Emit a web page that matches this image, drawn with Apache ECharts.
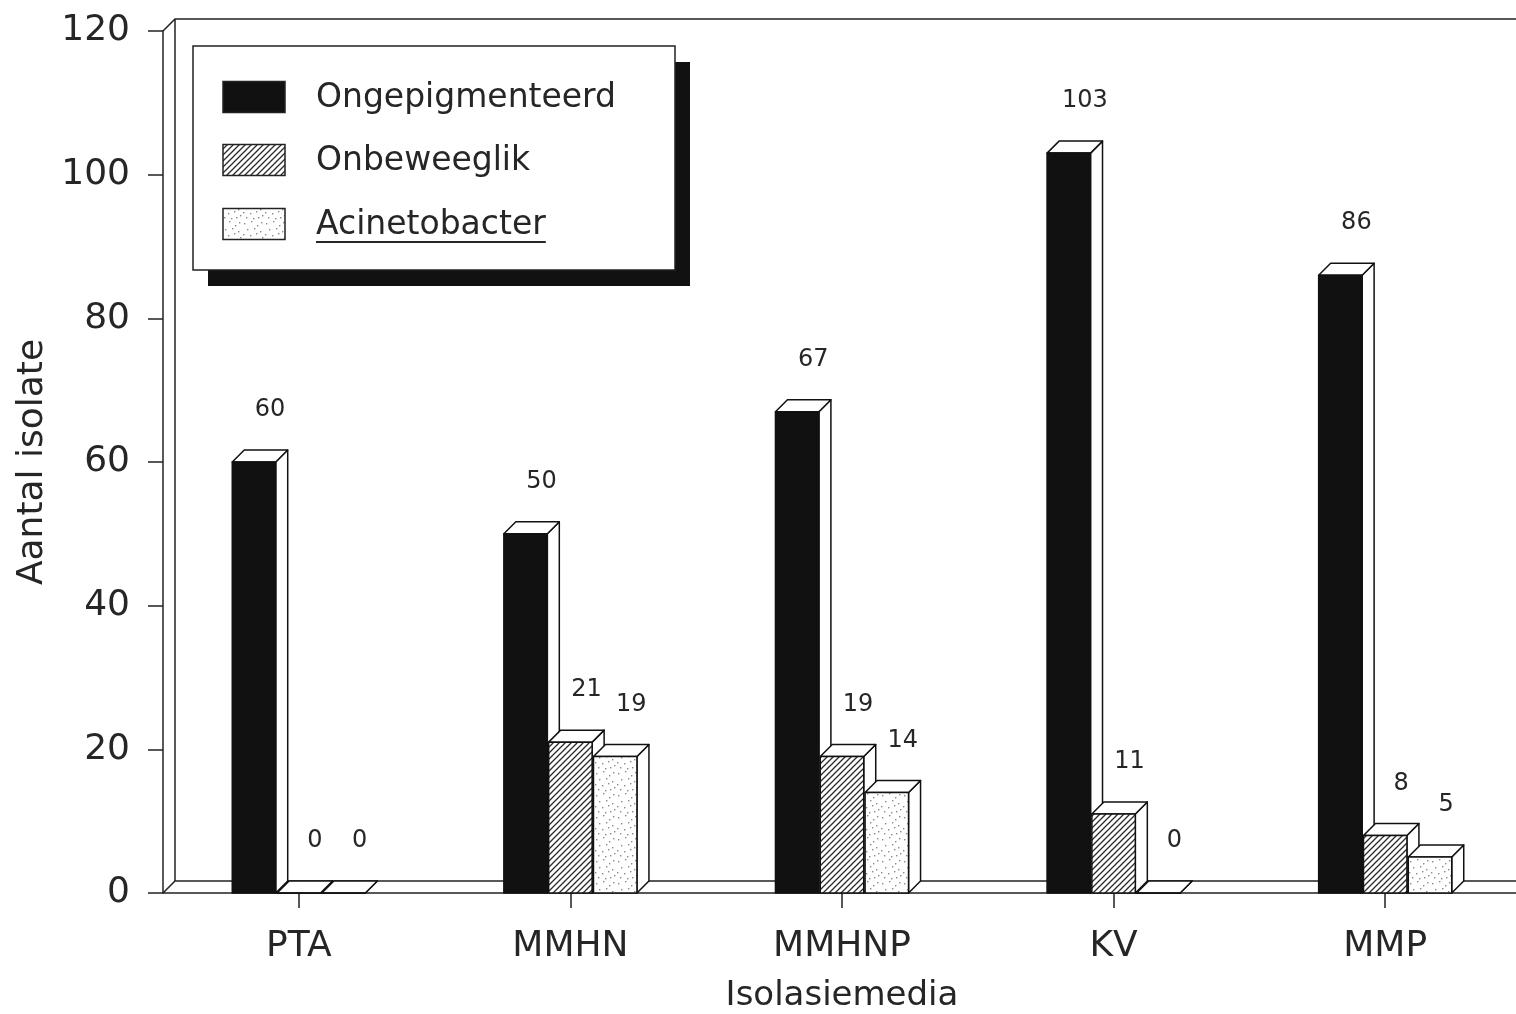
<!DOCTYPE html>
<html>
<head>
<meta charset="utf-8">
<title>Aantal isolate per isolasiemedium</title>
<script src="https://cdn.jsdelivr.net/npm/echarts@6/dist/echarts.min.js"></script>
<style>
  html, body { margin: 0; padding: 0; background: #fff; }
  #chart { width: 1516px; height: 1014px; }
</style>
</head>
<body>
<div id="chart"></div>
<script>
// ---- data ----
const categories = ['PTA', 'MMHN', 'MMHNP', 'KV', 'MMP'];
const seriesNames = ['Ongepigmenteerd', 'Onbeweeglik', 'Acinetobacter'];
const ongepigmenteerd = [60, 50, 67, 103, 86];
const onbeweeglik = [0, 21, 19, 11, 8];
const acinetobacter = [0, 19, 14, 0, 5];
const yMin = 0, yMax = 120, yStep = 20;
const xTitle = 'Isolasiemedia';
const yTitle = 'Aantal isolate';

// ---- styling constants ----
const FONT = '"DejaVu Sans", "Liberation Sans", sans-serif';
const INK = '#262626';
const DEPTH = 12;          // 3D offset of the box faces, px
const BAR_FRAC = 0.16;     // bar width as a share of one category band
const LABEL_DX = 16, LABEL_DY = 52;

// diagonal hatching ("////")
function hatchPattern() {
  const s = 6;
  const c = document.createElement('canvas');
  c.width = s; c.height = s;
  const g = c.getContext('2d');
  g.fillStyle = '#fff'; g.fillRect(0, 0, s, s);
  g.strokeStyle = '#2a2a2a'; g.lineWidth = 1.3;
  g.beginPath();
  g.moveTo(-1, s + 1); g.lineTo(s + 1, -1);
  g.moveTo(-1, 1); g.lineTo(1, -1);
  g.moveTo(s - 1, s + 1); g.lineTo(s + 1, s - 1);
  g.stroke();
  return { image: c, repeat: 'repeat' };
}

// light stipple: a fixed scatter of small dots on white
function stipplePattern() {
  const s = 22;
  const dots = [[2,3],[9,1],[15,5],[19,2],[5,9],[12,8],[18,11],[1,14],[8,15],[14,13],[20,17],[4,19],[11,20],[16,19]];
  const c = document.createElement('canvas');
  c.width = s; c.height = s;
  const g = c.getContext('2d');
  g.fillStyle = '#fff'; g.fillRect(0, 0, s, s);
  g.fillStyle = '#8a8a8a';
  dots.forEach(function (d) { g.fillRect(d[0], d[1], 1.4, 1.4); });
  return { image: c, repeat: 'repeat' };
}

const fills = ['#111', hatchPattern(), stipplePattern()];
const valueSets = [ongepigmenteerd, onbeweeglik, acinetobacter];

// one 3D box per data item: front face, top face, right side face, value label
function makeBoxRenderer(slot, fill) {
  return function (params, api) {
    const cat = api.value(0);
    const val = api.value(1);
    const base = api.coord([cat, 0]);
    const top = api.coord([cat, val]);
    const band = api.size([1, 0])[0];
    const bw = band * BAR_FRAC;
    const step = band * 0.165;
    const cx = base[0] + (slot - 1) * step;
    const xL = cx - bw / 2;
    const xR = xL + bw;
    const yT = top[1];
    const yB = base[1];
    const d = DEPTH;
    const line = { stroke: '#111', lineWidth: 1.5, lineJoin: 'round' };
    return {
      type: 'group',
      children: [
        {
          type: 'polygon', z2: slot * 3,
          shape: { points: [[xR, yT], [xR + d, yT - d], [xR + d, yB - d], [xR, yB]] },
          style: Object.assign({ fill: '#fff' }, line)
        },
        {
          type: 'polygon', z2: slot * 3 + 1,
          shape: { points: [[xL, yT], [xR, yT], [xR + d, yT - d], [xL + d, yT - d]] },
          style: Object.assign({ fill: '#fff' }, line)
        },
        {
          type: 'rect', z2: slot * 3 + 2,
          shape: { x: xL, y: yT, width: bw, height: yB - yT },
          style: Object.assign({ fill: fill }, line)
        },
        {
          type: 'text', z2: 100,
          x: cx + LABEL_DX, y: yT - LABEL_DY,
          style: {
            text: String(val), fill: INK,
            font: '24px ' + FONT,
            align: 'center', verticalAlign: 'middle'
          }
        }
      ]
    };
  };
}

// back wall and floor edges of the 3D plot box
function renderFrame(params) {
  const cs = params.coordSys;
  const x0 = cs.x, y0 = cs.y, x1 = cs.x + cs.width + 40, y1 = cs.y + cs.height;
  const d = DEPTH;
  const st = { stroke: '#222', lineWidth: 1.5, fill: null };
  return {
    type: 'group',
    children: [
      { type: 'polyline', shape: { points: [[x0, y0], [x0 + d, y0 - d], [x1, y0 - d]] }, style: st },
      { type: 'line', shape: { x1: x0 + d, y1: y0 - d, x2: x0 + d, y2: y1 - d }, style: st },
      { type: 'polyline', shape: { points: [[x0, y1], [x0 + d, y1 - d], [x1, y1 - d]] }, style: st }
    ]
  };
}

const barSeries = seriesNames.map(function (name, i) {
  return {
    type: 'custom',
    name: name,
    z: 2,
    renderItem: makeBoxRenderer(i, fills[i]),
    data: valueSets[i].map(function (v, k) { return [k, v]; }),
    encode: { x: 0, y: 1 }
  };
});

// legend drawn as a framed panel with a hard drop shadow
function legendGraphic() {
  const ctx = document.createElement('canvas').getContext('2d');
  const boxX = 193, boxY = 46, boxW = 482, boxH = 224;
  const rows = [98, 161, 225];
  const iconX = 223, iconW = 62, iconH = 31, textX = 316;
  const textFont = '33px ' + FONT;
  const children = [
    { type: 'rect', shape: { x: boxX + 15, y: boxY + 16, width: boxW, height: boxH }, style: { fill: '#111' } },
    { type: 'rect', shape: { x: boxX, y: boxY, width: boxW, height: boxH }, style: { fill: '#fff', stroke: '#222', lineWidth: 1.5 } }
  ];
  seriesNames.forEach(function (name, i) {
    children.push({
      type: 'rect',
      shape: { x: iconX, y: rows[i] - iconH / 2 - 1, width: iconW, height: iconH },
      style: { fill: fills[i], stroke: '#222', lineWidth: 1.5 }
    });
    children.push({
      type: 'text', x: textX, y: rows[i],
      style: { text: name, font: textFont, fill: INK, align: 'left', verticalAlign: 'middle' }
    });
  });
  // the genus name is underlined
  ctx.font = textFont;
  const w = ctx.measureText(seriesNames[2]).width;
  children.push({
    type: 'line',
    shape: { x1: textX, y1: rows[2] + 17, x2: textX + w, y2: rows[2] + 17 },
    style: { stroke: INK, lineWidth: 2 }
  });
  return [{ type: 'group', z: 10, children: children }];
}

const chart = echarts.init(document.getElementById('chart'), null, { renderer: 'canvas' });
chart.setOption({
  backgroundColor: '#fff',
  animation: false,
  textStyle: { fontFamily: FONT },
  grid: { left: 163, top: 31, bottom: 121, width: 1358, containLabel: false, outerBoundsMode: 'none' },
  xAxis: {
    type: 'category',
    data: categories,
    name: xTitle,
    nameLocation: 'middle',
    nameGap: 86,
    nameTextStyle: { fontSize: 34, color: INK, fontFamily: FONT },
    axisLine: { show: true, lineStyle: { color: '#222', width: 1.5 } },
    axisTick: { show: true, alignWithLabel: true, length: 15, lineStyle: { color: '#222', width: 1.5 } },
    axisLabel: { fontSize: 36, color: INK, margin: 36, fontFamily: FONT },
    splitLine: { show: false }
  },
  yAxis: {
    type: 'value',
    min: yMin, max: yMax, interval: yStep,
    name: yTitle,
    nameLocation: 'middle',
    nameGap: 112,
    nameTextStyle: { fontSize: 36, color: INK, fontFamily: FONT },
    axisLine: { show: true, lineStyle: { color: '#222', width: 1.5 } },
    axisTick: { show: true, length: 15, lineStyle: { color: '#222', width: 1.5 } },
    axisLabel: { fontSize: 36, color: INK, margin: 33, fontFamily: FONT },
    splitLine: { show: false }
  },
  series: [{
    type: 'custom',
    name: 'frame',
    silent: true,
    z: 1,
    renderItem: renderFrame,
    data: [[0, 0]],
    encode: { x: 0, y: 1 }
  }].concat(barSeries),
  graphic: legendGraphic()
});
</script>
</body>
</html>
